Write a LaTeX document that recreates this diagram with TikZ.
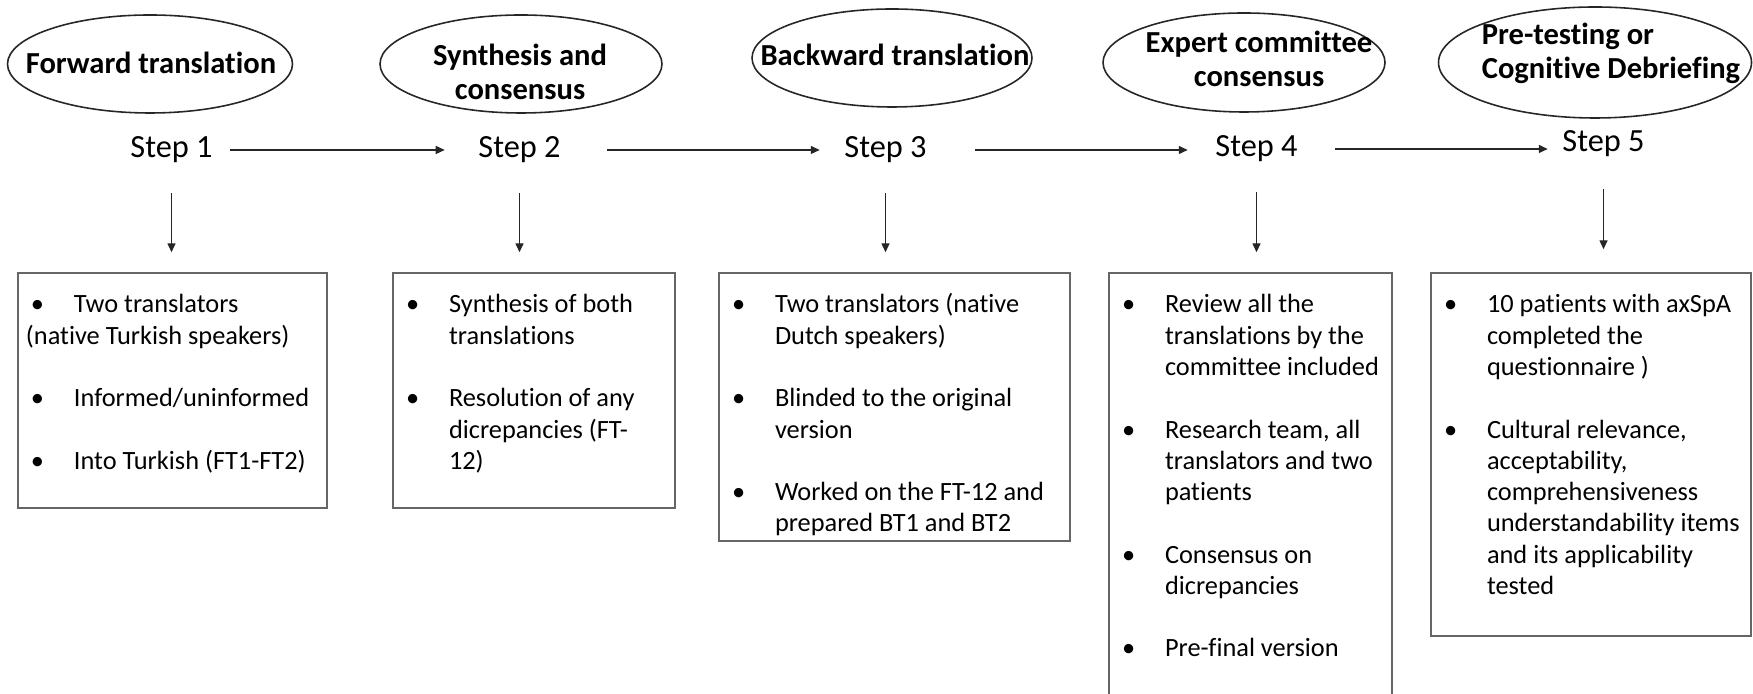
\documentclass[tikz,border=0pt]{standalone}
\usepackage{fontspec}
\setmainfont{Carlito}[Ligatures=NoCommon]
\usetikzlibrary{arrows.meta,shapes.geometric}
\tikzset{
  phase/.style={draw=black!85, line width=0.45pt, ellipse, inner sep=0pt},
  phasetxt/.style={font=\fontsize{8.7}{9.7}\selectfont\bfseries, align=center, inner sep=0pt},
  steplbl/.style={font=\fontsize{9.2}{11}\selectfont, inner sep=0pt},
  flow/.style={draw=black!85, line width=0.4pt, -{Triangle[length=0.9mm,width=0.8mm]}},
  infobox/.style={draw=black!60, line width=0.4pt, inner sep=0pt},
  infotxt/.style={font=\fontsize{7.5}{8.9}\selectfont, inner sep=0pt, anchor=north west}
}
\newcommand{\itemdot}{\makebox[0.48cm][l]{\hspace{0.05cm}\textbullet}}

\begin{document}
\begin{tikzpicture}
    \useasboundingbox (0,0) rectangle (17.53,-6.94);
    % phases
    \node[phase, minimum width=2.85cm, minimum height=0.98cm] (p1) at (1.50,-0.64) {};
    \node[phasetxt] (pt1) at (1.51,-0.63) {Forward translation};
    \node[phase, minimum width=2.82cm, minimum height=0.98cm] (p2) at (5.21,-0.64) {};
    \node[phasetxt] (pt2) at (5.20,-0.72) {Synthesis and\\consensus};
    \node[phase, minimum width=2.80cm, minimum height=0.98cm] (p3) at (8.92,-0.58) {};
    \node[phasetxt] (pt3) at (8.95,-0.55) {Backward translation};
    \node[phase, minimum width=2.82cm, minimum height=0.99cm] (p4) at (12.44,-0.625) {};
    \node[phasetxt] (pt4) at (12.59,-0.585) {Expert committee\\consensus};
    \node[phase, minimum width=3.13cm, minimum height=1.11cm] (p5) at (15.95,-0.625) {};
    \node[phasetxt, align=left] (pt5) at (16.11,-0.535) {Pre-testing or\\Cognitive Debriefing};
    % steps
    \node[steplbl] (s1) at (1.715,-1.50) {Step 1};
    \node[steplbl] (s2) at (5.195,-1.50) {Step 2};
    \node[steplbl] (s3) at (8.855,-1.50) {Step 3};
    \node[steplbl] (s4) at (12.565,-1.49) {Step 4};
    \node[steplbl] (s5) at (16.035,-1.44) {Step 5};
    \draw[flow, shorten <=0.17cm, shorten >=0.33cm] (s1) -- (s2);
    \draw[flow, shorten <=0.46cm, shorten >=0.24cm] (s2) -- (s3);
    \draw[flow, shorten <=0.48cm, shorten >=0.27cm] (s3.east) -- (s3.east -| s4.west);
    \draw[flow, shorten <=0.37cm, shorten >=0.14cm] (s4.east) -- (s4.east -| s5.west);
    % boxes
    \node[infobox, minimum width=3.09cm, minimum height=2.35cm] (b1) at (1.725,-3.905) {};
    \node[infobox, minimum width=2.82cm, minimum height=2.35cm] (b2) at (5.34,-3.905) {};
    \node[infobox, minimum width=3.51cm, minimum height=2.68cm] (b3) at (8.945,-4.07) {};
    \node[infobox, minimum width=2.83cm, minimum height=4.47cm] (b4) at (12.505,-4.965) {};
    \node[infobox, minimum width=3.20cm, minimum height=3.63cm] (b5) at (15.91,-4.545) {};
    \draw[flow, shorten <=0.29cm, shorten >=0.20cm] (s1.south) -- (s1.south |- b1.north);
    \draw[flow, shorten <=0.29cm, shorten >=0.20cm] (s2.south) -- (s2.south |- b2.north);
    \draw[flow, shorten <=0.29cm, shorten >=0.20cm] (s3.south) -- (s3.south |- b3.north);
    \draw[flow, shorten <=0.29cm, shorten >=0.20cm] (s4.south) -- (s4.south |- b4.north);
    \draw[flow, shorten <=0.31cm, shorten >=0.23cm] (s5.south) -- (s5.south |- b5.north);
    % box texts
    \node[infotxt] (t1) at ([xshift=0.08cm,yshift=-0.18cm]b1.north west) {\begin{tabular}{@{}l@{}l@{}}
        \itemdot & Two translators\\
        \multicolumn{2}{@{}l@{}}{(native Turkish speakers)}\\
        & \\
        \itemdot & Informed/uninformed\\
        & \\
        \itemdot & Into Turkish (FT1-FT2)
    \end{tabular}};
    \node[infotxt] (t2) at ([xshift=0.08cm,yshift=-0.18cm]b2.north west) {\begin{tabular}{@{}l@{}l@{}}
        \itemdot & Synthesis of both\\
        & translations\\
        & \\
        \itemdot & Resolution of any\\
        & dicrepancies (FT-\\
        & 12)
    \end{tabular}};
    \node[infotxt] (t3) at ([xshift=0.08cm,yshift=-0.18cm]b3.north west) {\begin{tabular}{@{}l@{}l@{}}
        \itemdot & Two translators (native\\
        & Dutch speakers)\\
        & \\
        \itemdot & Blinded to the original\\
        & version\\
        & \\
        \itemdot & Worked on the FT-12 and\\
        & prepared BT1 and BT2
    \end{tabular}};
    \node[infotxt] (t4) at ([xshift=0.08cm,yshift=-0.18cm]b4.north west) {\begin{tabular}{@{}l@{}l@{}}
        \itemdot & Review all the\\
        & translations by the\\
        & committee included\\
        & \\
        \itemdot & Research team, all\\
        & translators and two\\
        & patients\\
        & \\
        \itemdot & Consensus on\\
        & dicrepancies\\
        & \\
        \itemdot & Pre-final version
    \end{tabular}};
    \node[infotxt] (t5) at ([xshift=0.08cm,yshift=-0.18cm]b5.north west) {\begin{tabular}{@{}l@{}l@{}}
        \itemdot & 10 patients with axSpA\\
        & completed the\\
        & questionnaire )\\
        & \\
        \itemdot & Cultural relevance,\\
        & acceptability,\\
        & comprehensiveness\\
        & understandability items\\
        & and its applicability\\
        & tested
    \end{tabular}};
\end{tikzpicture}
\end{document}
